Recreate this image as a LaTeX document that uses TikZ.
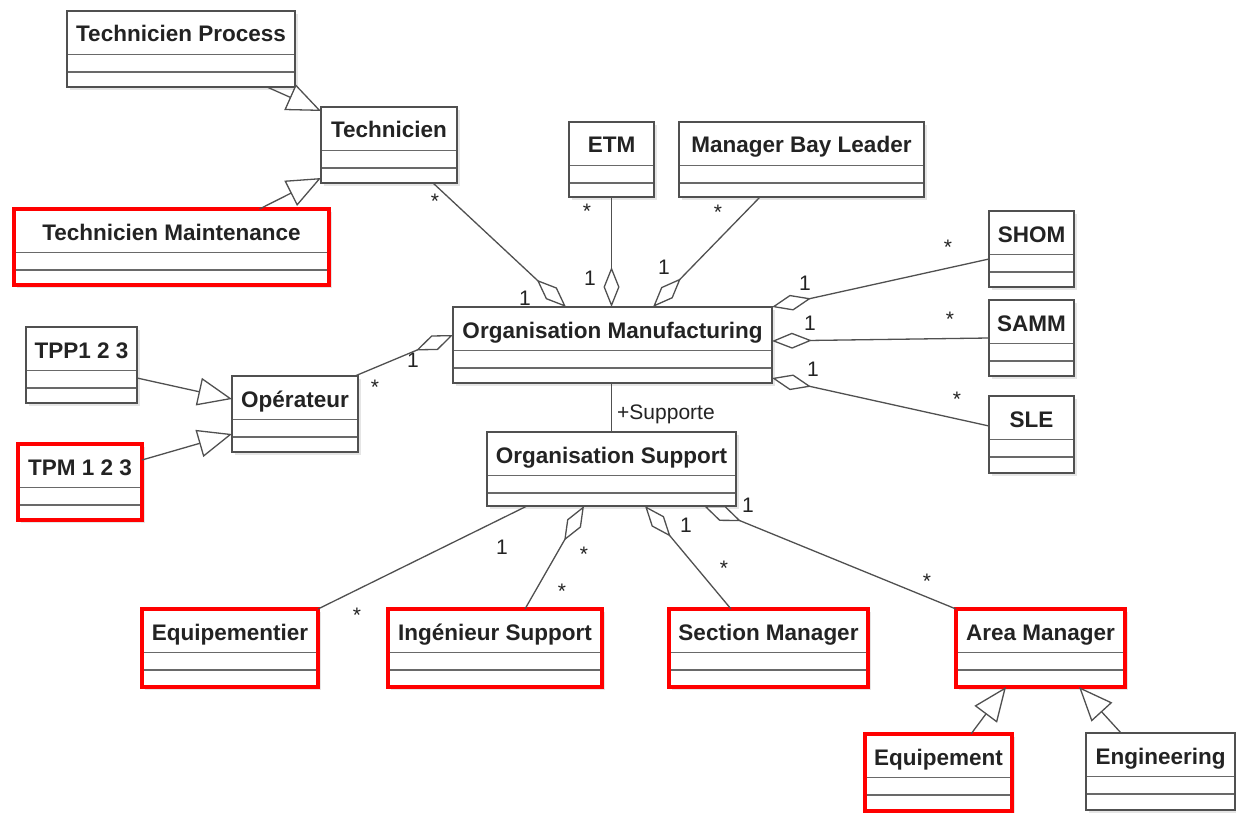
\documentclass[tikz,border=0pt]{standalone}
\usepackage{fontspec}
\setmainfont{Liberation Sans}
\usetikzlibrary{arrows.meta,calc,shadows}
\definecolor{linegray}{RGB}{80,80,80}
\definecolor{sepgray}{RGB}{105,105,105}
\definecolor{txt}{RGB}{35,35,35}
\definecolor{hlred}{RGB}{255,0,0}
\tikzset{
  classfill/.style={rectangle, fill=white, draw=none, inner sep=0pt, outer sep=0pt,
    drop shadow={shadow xshift=3pt, shadow yshift=-3pt, fill=black!10, opacity=1}},
  classline/.style={draw=linegray, line width=1.6pt},
  redbox/.style={draw=hlred, line width=4pt},
  sepline/.style={draw=sepgray, line width=1.6pt},
  clstext/.style={font=\bfseries\fontsize{22.5}{26}\selectfont, text=txt, inner sep=0pt, anchor=base},
  conn/.style={draw=linegray, line width=1.3pt},
  gen/.style={conn, -{Triangle[open, length=34pt, width=28pt, fill=white]}},
  agg/.style={conn, -{Diamond[open, length=40pt, width=16pt, fill=white]}},
  aggrev/.style={conn, {Diamond[open, length=40pt, width=16pt, fill=white]}-},
  mult/.style={font=\fontsize{21}{24}\selectfont, text=txt, inner sep=0pt},
  star/.style={mult, yshift=-4.5pt},
}
\newcommand\umlclass[7]{%
  \node[classfill, minimum width=#4pt, minimum height=#5pt, anchor=north west] (#1) at (#2,#3) {};
  \draw[sepline] ($(#1.north west)+(0,43.5)$) -- ($(#1.north east)+(0,43.5)$);
  \draw[sepline] ($(#1.north west)+(0,61)$) -- ($(#1.north east)+(0,61)$);
  \draw[classline,#7] (#1.north west) rectangle (#1.south east);
  \node[clstext] (#1-t) at ($(#1.north)+(0,31)$) {#6};
}
\begin{document}
\begin{tikzpicture}[x=1pt,y=-1pt]
\fill[white] (0,0) rectangle (1236,813);
\useasboundingbox (0,0) rectangle (1236,813);

% gray classes
\umlclass{tproc}{67}{11}{228}{76}{Technicien Process}{}
\umlclass{tech}{321}{107}{136}{76}{Technicien}{}
\umlclass{etm}{569}{122}{85}{75}{ETM}{}
\umlclass{mbl}{679}{122}{245}{75}{Manager Bay Leader}{}
\umlclass{om}{453}{307}{319}{76}{Organisation Manufacturing}{}
\umlclass{shom}{989}{211}{85}{76}{SHOM}{}
\umlclass{samm}{989}{300}{85}{76}{SAMM}{}
\umlclass{sle}{989}{396}{85}{77}{SLE}{}
\umlclass{tpp}{26}{327}{111}{76}{TPP1 2 3}{}
\umlclass{oper}{232}{376}{126}{76}{Opérateur}{}
\umlclass{os}{487}{432}{249}{74}{Organisation Support}{}
\umlclass{eng}{1086}{733}{149}{77}{Engineering}{}
% highlighted classes
\umlclass{tmaint}{14}{209}{315}{76}{Technicien Maintenance}{redbox}
\umlclass{tpm}{18}{444}{124}{76}{TPM 1 2 3}{redbox}
\umlclass{equipr}{142}{609}{176}{78}{Equipementier}{redbox}
\umlclass{ing}{388}{609}{214}{78}{Ingénieur Support}{redbox}
\umlclass{secm}{669}{609}{199}{78}{Section Manager}{redbox}
\umlclass{aream}{956}{609}{169}{78}{Area Manager}{redbox}
\umlclass{equip}{865}{734}{147}{77}{Equipement}{redbox}

% connectors
\draw[gen] ($(tproc.south)+(86,0)$) -- ($(tech.north west)+(0,4)$);
\draw[gen] ($(tmaint.north)+(88,0)$) -- ($(tech.south west)+(0,-5)$);
\draw[agg] ($(tech.south east)+(-24,0)$) -- ($(om.north west)+(113,0)$);
\draw[agg] (etm.south) -- (etm.south |- om.north);
\draw[agg] ($(mbl.south west)+(81,0)$) -- ($(om.north west)+(200,0)$);
\draw[agg] ($(shom.north west)+(0,48)$) -- (om.north east);
\draw[agg] ($(samm.north west)+(0,38)$) -- ($(om.north east)+(0,34)$);
\draw[agg] ($(sle.north west)+(0,30)$) -- ($(om.south east)+(0,-5)$);
\draw[agg] ($(oper.north east)+(-3,0)$) -- ($(om.north west)+(0,28)$);
\draw[gen] ($(tpp.north east)+(0,51)$) -- ($(oper.north west)+(0,23)$);
\draw[gen] ($(tpm.north east)+(0,16)$) -- ($(oper.north west)+(0,58)$);
\draw[conn] (os.north |- om.south) -- (os.north);
\draw[conn] ($(os.south west)+(40,0)$) -- (equipr.north east);
\draw[aggrev] ($(os.south west)+(97,0)$) -- ($(ing.north west)+(137,0)$);
\draw[aggrev] ($(os.south west)+(158,0)$) -- ($(secm.north west)+(62,0)$);
\draw[aggrev] ($(os.south west)+(217,0)$) -- (aream.north west);
\draw[gen] ($(equip.north west)+(106,0)$) -- ($(aream.south west)+(50,0)$);
\draw[gen] ($(eng.north west)+(35,0)$) -- ($(aream.south west)+(123,0)$);

% labels
\node[mult, anchor=base west] (supp) at (617,419) {+Supporte};
\node[star] (m1) at (435,197) {*};
\node[mult] (m2) at (525,298) {1};
\node[star] (m3) at (587,207) {*};
\node[mult] (m4) at (590,278) {1};
\node[star] (m5) at (718,208) {*};
\node[mult] (m6) at (664,267) {1};
\node[mult] (m7) at (805,283) {1};
\node[star] (m8) at (948,243) {*};
\node[mult] (m9) at (810,323) {1};
\node[star] (m10) at (950,315) {*};
\node[mult] (m11) at (813,369) {1};
\node[star] (m12) at (957,395) {*};
\node[mult] (m13) at (413,360) {1};
\node[star] (m14) at (375,383) {*};
\node[mult] (m15) at (502,547) {1};
\node[star] (m16) at (357,611) {*};
\node[star] (m17) at (584,550) {*};
\node[star] (m18) at (562,587) {*};
\node[mult] (m19) at (686,525) {1};
\node[star] (m20) at (724,564) {*};
\node[mult] (m21) at (748,505) {1};
\node[star] (m22) at (927,577) {*};
\end{tikzpicture}
\end{document}
